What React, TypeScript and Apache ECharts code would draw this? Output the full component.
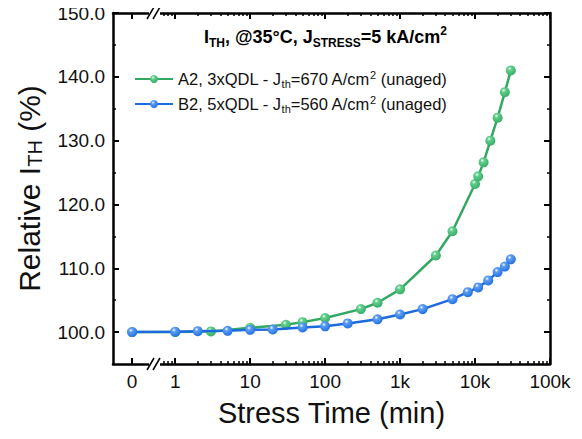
import React, { useEffect, useRef } from "react";
import * as echarts from "echarts";

// Stress time (min) and relative I_TH (%) values
const timesA2 = [0, 1, 3, 10, 30, 50, 100, 300, 500, 1000, 3000, 5000, 10000, 11000, 13000, 16000, 20000, 25000, 30000];
const valuesA2 = [100.0, 100.0, 100.1, 100.67, 101.15, 101.56, 102.2, 103.6, 104.6, 106.7, 112.0, 115.8, 123.2, 124.4, 126.6, 130.0, 133.6, 137.6, 141.0];
const timesB2 = [0, 1, 2, 5, 10, 20, 50, 100, 200, 500, 1000, 2000, 5000, 8000, 11000, 15000, 20000, 25000, 30000];
const valuesB2 = [100.0, 100.05, 100.15, 100.2, 100.35, 100.4, 100.73, 100.9, 101.36, 102.0, 102.76, 103.6, 105.16, 106.25, 107.0, 108.1, 109.4, 110.26, 111.4];

const xTickLabels = ["0", "1", "10", "100", "1k", "10k", "100k"];
const yTickValues = [100, 110, 120, 130, 140, 150];
const yMinorValues = [105, 115, 125, 135, 145];

const ZERO_POS = -0.575;
const X_MIN = -0.83;
const X_MAX = 5;
const xMajor = [ZERO_POS, 0, 1, 2, 3, 4, 5];
const xMinor: number[] = [];
for (const m of [6, 7, 8, 9]) xMinor.push(Math.log10(m) - 1);
for (let k = 0; k < 5; k++) for (let m = 2; m <= 9; m++) xMinor.push(k + Math.log10(m));

const toX = (t: number) => (t === 0 ? ZERO_POS : Math.log10(t));

const GREEN = "#33a862";
const BLUE = "#1b6ade";
const FONT = "Liberation Sans, Arial, sans-serif";

const ball = (c: string, light: string) =>
  new echarts.graphic.RadialGradient(0.38, 0.32, 0.75, [
    { offset: 0, color: "#ffffff" },
    { offset: 0.25, color: light },
    { offset: 1, color: c },
  ]);

export default function App() {
  const ref = useRef<HTMLDivElement>(null);
  useEffect(() => {
    if (!ref.current) return;
    const chart = echarts.init(ref.current, null, { renderer: "svg" });
    const axisLine = { show: true, onZero: false, lineStyle: { color: "#000", width: 2.5 } };
    const noLine = { show: false, onZero: false };
    const majorTick = (vals: number[]) => ({
      show: true, inside: true, length: 6, customValues: vals, lineStyle: { color: "#000", width: 2 },
    });
    const minorTick = (vals: number[]) => ({
      show: true, inside: true, length: 3, customValues: vals, lineStyle: { color: "#000", width: 1.5 },
    });
    const baseX = { type: "value", min: X_MIN, max: X_MAX, splitLine: { show: false } };
    const baseY = { type: "value", min: 95, max: 150, splitLine: { show: false } };
    const legendRich = {
      n: { fontSize: 16.5, fontFamily: FONT, color: "#111", lineHeight: 20 },
      s: { fontSize: 11, fontFamily: FONT, color: "#111", verticalAlign: "bottom", lineHeight: 11 },
      p: { fontSize: 11, fontFamily: FONT, color: "#111", verticalAlign: "top", lineHeight: 11 },
    };
    const option = {
      animation: false,
      backgroundColor: "#fff",
      grid: { left: 113, right: 32, top: 13, bottom: 75 },
      title: {
        text: "{b|I}{bs|TH}{b|, @35°C, J}{bs|STRESS}{b|=5 kA/cm}{bp|2}",
        left: 199,
        top: 20,
        textStyle: {
          rich: {
            b: { fontSize: 18, fontWeight: "bold", fontFamily: FONT, color: "#000", lineHeight: 24 },
            bs: { fontSize: 12, fontWeight: "bold", fontFamily: FONT, color: "#000", verticalAlign: "bottom", lineHeight: 12 },
            bp: { fontSize: 12, fontWeight: "bold", fontFamily: FONT, color: "#000", verticalAlign: "top", lineHeight: 12 },
          },
        },
      },
      legend: {
        orient: "vertical",
        left: 129,
        top: 64,
        itemWidth: 38,
        itemHeight: 10,
        itemGap: 5,
        data: ["A2", "B2"],
        formatter: (name: string) =>
          name === "A2"
            ? "{n|A2, 3xQDL - J}{s|th}{n|=670 A/cm}{p|2}{n| (unaged)}"
            : "{n|B2, 5xQDL - J}{s|th}{n|=560 A/cm}{p|2}{n| (unaged)}",
        textStyle: { rich: legendRich },
      },
      xAxis: [
        {
          ...baseX,
          position: "bottom",
          axisLine,
          axisTick: majorTick(xMajor),
          axisLabel: {
            customValues: xMajor,
            fontSize: 19,
            fontFamily: FONT,
            color: "#111",
            margin: 8,
            formatter: (v: number) => {
              const i = xMajor.findIndex((m) => Math.abs(m - v) < 1e-6);
              return i >= 0 ? xTickLabels[i] : "";
            },
          },
          name: "Stress Time (min)",
          nameLocation: "middle",
          nameGap: 34,
          nameTextStyle: { fontSize: 29, fontFamily: FONT, color: "#111" },
        },
        { ...baseX, position: "bottom", axisLine: noLine, axisTick: minorTick(xMinor), axisLabel: { show: false } },
        { ...baseX, position: "top", axisLine, axisTick: majorTick(xMajor), axisLabel: { show: false } },
        { ...baseX, position: "top", axisLine: noLine, axisTick: minorTick(xMinor), axisLabel: { show: false } },
      ],
      yAxis: [
        {
          ...baseY,
          position: "left",
          axisLine,
          axisTick: majorTick(yTickValues),
          axisLabel: {
            customValues: yTickValues,
            fontSize: 19,
            fontFamily: FONT,
            color: "#111",
            margin: 8,
            formatter: (v: number) => v.toFixed(1),
          },
          name: "{n|Relative I}{s|TH}{n| (%)}",
          nameLocation: "middle",
          nameGap: 68,
          nameTextStyle: {
            rich: {
              n: { fontSize: 30, fontFamily: FONT, color: "#111", lineHeight: 32 },
              s: { fontSize: 20, fontFamily: FONT, color: "#111", verticalAlign: "bottom", lineHeight: 20 },
            },
          },
        },
        { ...baseY, position: "left", axisLine: noLine, axisTick: minorTick(yMinorValues), axisLabel: { show: false } },
        { ...baseY, position: "right", axisLine, axisTick: majorTick(yTickValues), axisLabel: { show: false } },
        { ...baseY, position: "right", axisLine: noLine, axisTick: minorTick(yMinorValues), axisLabel: { show: false } },
      ],
      series: [
        {
          name: "A2",
          type: "line",
          data: timesA2.map((t, i) => [toX(t), valuesA2[i]]),
          symbol: "circle",
          symbolSize: 10,
          lineStyle: { color: GREEN, width: 2.5 },
          itemStyle: { color: ball(GREEN, "#62d08e"), borderWidth: 0 },
          z: 3,
        },
        {
          name: "B2",
          type: "line",
          data: timesB2.map((t, i) => [toX(t), valuesB2[i]]),
          symbol: "circle",
          symbolSize: 10,
          lineStyle: { color: BLUE, width: 2.5 },
          itemStyle: { color: ball(BLUE, "#5e9ef3"), borderWidth: 0 },
          z: 4,
        },
      ],
      graphic: [
        { type: "rect", shape: { x: 149, y: 360, width: 11, height: 8 }, style: { fill: "#fff" }, z: 100 },
        { type: "line", shape: { x1: 147, y1: 370, x2: 154, y2: 358 }, style: { stroke: "#000", lineWidth: 1.5 }, z: 101 },
        { type: "line", shape: { x1: 153, y1: 370, x2: 160, y2: 358 }, style: { stroke: "#000", lineWidth: 1.5 }, z: 101 },
        { type: "rect", shape: { x: 149, y: 9, width: 11, height: 8 }, style: { fill: "#fff" }, z: 100 },
        { type: "line", shape: { x1: 147, y1: 19, x2: 154, y2: 7 }, style: { stroke: "#000", lineWidth: 1.5 }, z: 101 },
        { type: "line", shape: { x1: 153, y1: 19, x2: 160, y2: 7 }, style: { stroke: "#000", lineWidth: 1.5 }, z: 101 },
      ],
    };
    chart.setOption(option as any);
    return () => chart.dispose();
  }, []);
  return <div ref={ref} style={{ width: 582, height: 439, margin: -8 }} />;
}
